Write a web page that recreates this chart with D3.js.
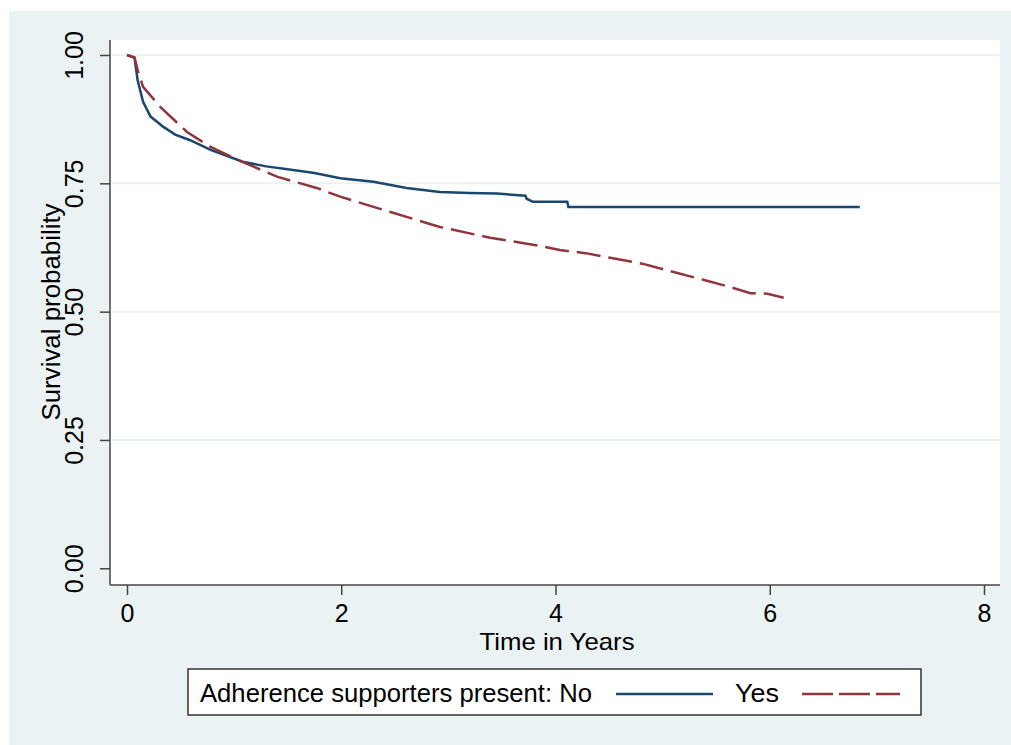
<!DOCTYPE html>
<html>
<head>
<meta charset="utf-8">
<script src="https://cdn.jsdelivr.net/npm/d3@7"></script>
<style>
  body { margin: 0; background: #fff; }
  text { font-family: "Liberation Sans", Arial, sans-serif; fill: #000; }
</style>
</head>
<body>
<script>
// Kaplan-Meier estimates
var noTime = [0, 0.07, 0.10, 0.15, 0.22, 0.34, 0.45, 0.59, 0.78, 1.08, 1.30, 1.55, 1.75, 1.99, 2.30, 2.61, 2.92, 3.20, 3.45, 3.72, 3.73, 3.79, 4.11, 4.12, 6.84];
var noSurv = [1.0, 0.995, 0.95, 0.909, 0.88, 0.860, 0.845, 0.834, 0.815, 0.792, 0.783, 0.776, 0.770, 0.760, 0.753, 0.741, 0.733, 0.731, 0.730, 0.726, 0.720, 0.714, 0.714, 0.704, 0.704];
var yesTime = [0, 0.07, 0.10, 0.15, 0.31, 0.56, 0.78, 1.03, 1.40, 1.77, 1.99, 2.46, 2.92, 3.39, 3.86, 4.04, 4.28, 4.51, 4.82, 5.07, 5.38, 5.63, 5.82, 5.98, 6.13];
var yesSurv = [1.0, 0.995, 0.97, 0.938, 0.899, 0.850, 0.821, 0.796, 0.763, 0.741, 0.724, 0.694, 0.665, 0.644, 0.628, 0.620, 0.614, 0.605, 0.593, 0.579, 0.562, 0.548, 0.536, 0.535, 0.527];
var xTicks = [0, 2, 4, 6, 8];
var yTicks = [0, 0.25, 0.5, 0.75, 1];
var legendLabels = ["Adherence supporters present: No", "Yes"];

var W = 1011, H = 745;
var svg = d3.select("body").append("svg").attr("width", W).attr("height", H);

// outer background
svg.append("rect").attr("x", 9).attr("y", 11).attr("width", W - 9).attr("height", H - 11)
  .attr("fill", "#eaf2f3");
// plot region
svg.append("rect").attr("x", 110).attr("y", 40).attr("width", 890).attr("height", 545)
  .attr("fill", "#fff");

var x = d3.scaleLinear().domain([0, 8]).range([127, 984]);
var y = d3.scaleLinear().domain([0, 1]).range([568.3, 55]);

// gridlines
svg.selectAll(".grid").data(yTicks.filter(function (d) { return d > 0; }))
  .enter().append("line")
  .attr("x1", 112).attr("x2", 1000)
  .attr("y1", function (d) { return y(d); }).attr("y2", function (d) { return y(d); })
  .attr("stroke", "#eaf2f3").attr("stroke-width", 2);

// axis lines
svg.append("line").attr("x1", 110).attr("x2", 110).attr("y1", 40).attr("y2", 585)
  .attr("stroke", "#444").attr("stroke-width", 1.5);
svg.append("line").attr("x1", 110).attr("x2", 1000).attr("y1", 585).attr("y2", 585)
  .attr("stroke", "#444").attr("stroke-width", 1.5);

// y axis
var yAx = svg.append("g").attr("transform", "translate(110,0)")
  .call(d3.axisLeft(y).tickValues(yTicks).tickSize(10).tickFormat(d3.format(".2f")));
yAx.select(".domain").remove();
yAx.selectAll("line").attr("stroke", "#444").attr("stroke-width", 1.5);
yAx.selectAll("text")
  .attr("x", null).attr("dy", null)
  .attr("transform", "translate(-27,0) rotate(-90)")
  .attr("text-anchor", "middle")
  .style("font-size", "25px");

// x axis
var xAx = svg.append("g").attr("transform", "translate(0,585)")
  .call(d3.axisBottom(x).tickValues(xTicks).tickSize(10).tickFormat(d3.format("d")));
xAx.select(".domain").remove();
xAx.selectAll("line").attr("stroke", "#444").attr("stroke-width", 1.5);
xAx.selectAll("text").attr("y", 37).attr("dy", null).style("font-size", "25px");

// axis titles
svg.append("text").attr("transform", "translate(60,312) rotate(-90)")
  .attr("text-anchor", "middle").style("font-size", "25px")
  .attr("textLength", 217).attr("lengthAdjust", "spacingAndGlyphs")
  .text("Survival probability");
svg.append("text").attr("x", 557).attr("y", 650)
  .attr("text-anchor", "middle").style("font-size", "24px")
  .attr("textLength", 155).attr("lengthAdjust", "spacingAndGlyphs")
  .text("Time in Years");

// curves
var line = d3.line().x(function (d) { return x(d[0]); }).y(function (d) { return y(d[1]); });
var noData = noTime.map(function (t, i) { return [t, noSurv[i]]; });
var yesData = yesTime.map(function (t, i) { return [t, yesSurv[i]]; });

svg.append("path").datum(noData).attr("d", line)
  .attr("fill", "none").attr("stroke", "#1a476f").attr("stroke-width", 2.5);
svg.append("path").datum(yesData).attr("d", line)
  .attr("fill", "none").attr("stroke", "#90353b").attr("stroke-width", 2.5)
  .attr("stroke-dasharray", "24,8");

// legend
svg.append("rect").attr("x", 188).attr("y", 669).attr("width", 733).attr("height", 46)
  .attr("fill", "#fff").attr("stroke", "#333").attr("stroke-width", 1.5);
svg.append("text").attr("x", 200).attr("y", 702).style("font-size", "25px")
  .attr("textLength", 392).attr("lengthAdjust", "spacingAndGlyphs")
  .text(legendLabels[0]);
svg.append("line").attr("x1", 616).attr("x2", 713).attr("y1", 694).attr("y2", 694)
  .attr("stroke", "#1a476f").attr("stroke-width", 2.5);
svg.append("text").attr("x", 735).attr("y", 702).style("font-size", "25px")
  .attr("textLength", 44).attr("lengthAdjust", "spacingAndGlyphs")
  .text(legendLabels[1]);
svg.append("line").attr("x1", 802).attr("x2", 900).attr("y1", 694).attr("y2", 694)
  .attr("stroke", "#90353b").attr("stroke-width", 2.5).attr("stroke-dasharray", "31,6");
</script>
</body>
</html>
